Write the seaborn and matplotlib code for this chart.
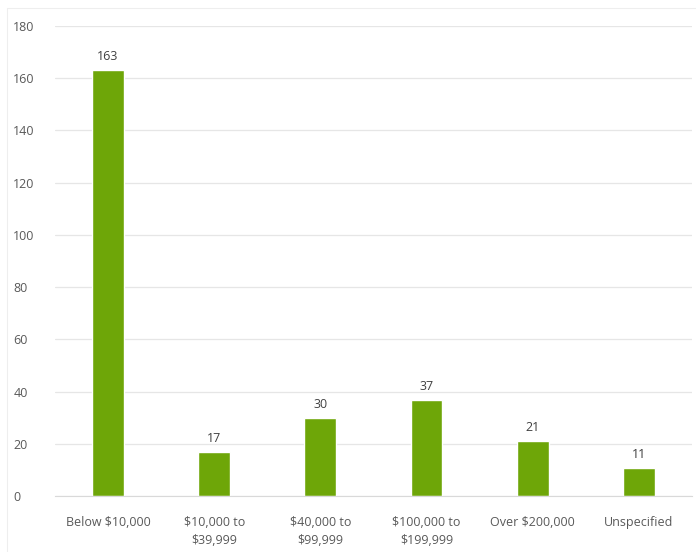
import matplotlib
matplotlib.use('Agg')
import matplotlib.pyplot as plt
import seaborn as sns
import pandas as pd

categories = ['Below $10,000', '$10,000 to\n$39,999', '$40,000 to\n$99,999',
              '$100,000 to\n$199,999', 'Over $200,000', 'Unspecified']
counts = [163, 17, 30, 37, 21, 11]
y_ticks = [0, 20, 40, 60, 80, 100, 120, 140, 160, 180]

bar_color = '#6EA608'
text_color = '#595959'


def draw_chart():
    df = pd.DataFrame({'category': categories, 'count': counts})
    sns.set_style('white')
    plt.rcParams['font.family'] = ['Open Sans', 'DejaVu Sans']

    fig = plt.figure(figsize=(6.96, 5.52), dpi=100)
    ax = fig.add_axes([0.079, 0.101, 0.915, 0.852])
    sns.barplot(data=df, x='category', y='count', color=bar_color,
                width=0.30, saturation=1, ax=ax)

    ax.set_ylim(0, 180)
    ax.set_yticks(y_ticks)
    ax.set_xlim(-0.5, len(categories) - 0.5)
    ax.yaxis.grid(True, color='#E6E6E6', linewidth=0.9)
    ax.set_axisbelow(True)
    for side in ['top', 'right', 'left']:
        ax.spines[side].set_visible(False)
    ax.spines['bottom'].set_color('#D9D9D9')
    ax.tick_params(axis='both', length=0, colors=text_color, labelsize=9)
    ax.tick_params(axis='y', pad=30)
    ax.tick_params(axis='x', pad=14)
    for lbl in ax.get_yticklabels():
        lbl.set_horizontalalignment('left')
    for lbl in ax.get_xticklabels():
        lbl.set_linespacing(1.55)
    ax.set_xlabel('')
    ax.set_ylabel('')

    for container in ax.containers:
        ax.bar_label(container, padding=5, fontsize=9, color='#404040')

    # faint chart-area border
    fig.add_artist(plt.Line2D([7 / 696, 1], [1 - 8 / 552, 1 - 8 / 552],
                              transform=fig.transFigure, color='#EEEEEE', linewidth=0.8))
    fig.add_artist(plt.Line2D([7 / 696, 7 / 696], [0, 1 - 8 / 552],
                              transform=fig.transFigure, color='#EEEEEE', linewidth=0.8))

    fig.savefig('out.png', dpi=100)


def main():
    draw_chart()


if __name__ == '__main__':
    main()
